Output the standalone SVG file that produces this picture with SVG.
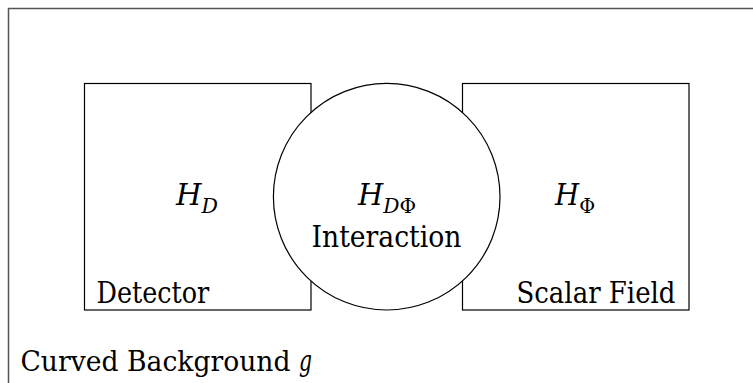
<svg xmlns="http://www.w3.org/2000/svg" width="753" height="383" viewBox="0 0 753 383">
<style>
.i{font-style:italic}
.box{fill:none;stroke:#000;stroke-width:1.2}
</style>
<rect x="0" y="0" width="753" height="383" fill="#fff"/>
<g font-family="DejaVu Serif, Liberation Serif, serif" font-size="30" fill="#000">
<g id="background">
<rect x="8.5" y="8.5" width="800" height="420" fill="none" stroke="#555" stroke-width="1.5"/>
<text x="20.5" y="371" font-size="27" textLength="270" lengthAdjust="spacingAndGlyphs">Curved Background</text>
<text class="i" x="299" y="371" textLength="13" lengthAdjust="spacingAndGlyphs">g</text>
</g>
<g id="detector">
<rect class="box" x="84.5" y="83.5" width="226.5" height="226.5"/>
<text class="i" x="176" y="205" textLength="42" lengthAdjust="spacingAndGlyphs">H<tspan dy="8" font-size="21">D</tspan></text>
<text x="96.5" y="303.3" textLength="112.8" lengthAdjust="spacingAndGlyphs">Detector</text>
</g>
<g id="scalar">
<rect class="box" x="462.5" y="83.5" width="226.5" height="226.5"/>
<text x="555" y="205" textLength="40" lengthAdjust="spacingAndGlyphs"><tspan class="i">H</tspan><tspan dy="8" font-size="21">Φ</tspan></text>
<text x="516.5" y="303.3" textLength="159" lengthAdjust="spacingAndGlyphs">Scalar Field</text>
</g>
<g id="interaction">
<circle cx="386.7" cy="196.7" r="113.3" fill="#fff" stroke="#000" stroke-width="1.2"/>
<text x="358" y="205" textLength="58" lengthAdjust="spacingAndGlyphs"><tspan class="i">H</tspan><tspan dy="8" font-size="21" class="i">D</tspan><tspan font-size="21">Φ</tspan></text>
<text x="311.5" y="246.7" textLength="150" lengthAdjust="spacingAndGlyphs">Interaction</text>
</g>
</g>
<g id="connectors"></g>
</svg>
